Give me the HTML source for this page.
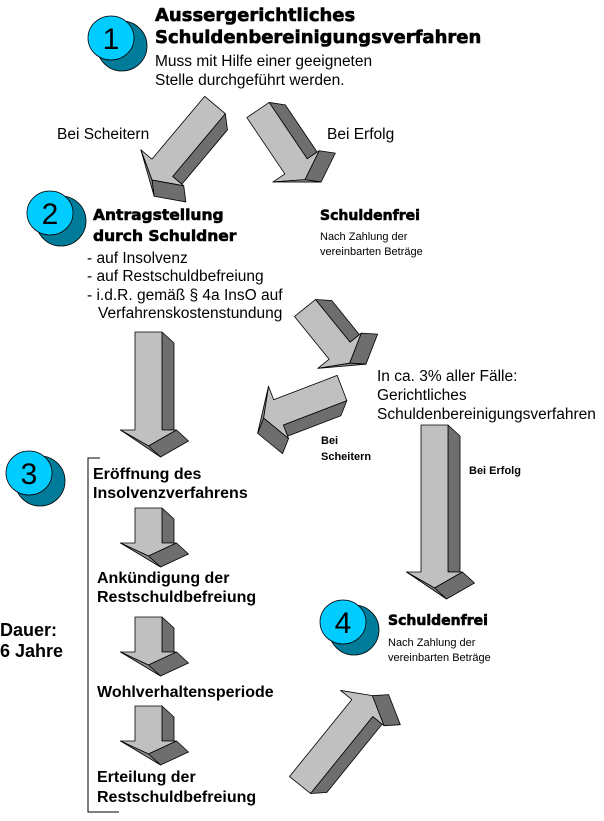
<!DOCTYPE html>
<html><head><meta charset="utf-8"><style>
html,body{margin:0;padding:0;background:#fff;width:604px;height:821px;overflow:hidden}
svg{display:block}
.a{font-family:"Liberation Sans",Arial,sans-serif;font-size:15.5px;fill:#000}
.b{font-family:"Liberation Sans",Arial,sans-serif;font-size:16px;font-weight:bold;fill:#000}
.v{font-family:"DejaVu Sans",Verdana,sans-serif;font-weight:bold;fill:#000;stroke:#000;stroke-width:0.6}
.s{font-family:"Liberation Sans",Arial,sans-serif;font-size:11px;fill:#000}
.sb{font-family:"Liberation Sans",Arial,sans-serif;font-size:11px;font-weight:bold;fill:#000}
.n{font-family:"Liberation Sans",Arial,sans-serif;font-size:30px;fill:#000}
</style></head><body>
<svg width="604" height="821" viewBox="0 0 604 821" xmlns="http://www.w3.org/2000/svg">
<g stroke="#000" stroke-width="0.8" stroke-linejoin="round">
<g transform="translate(215,105) rotate(40)">
<polygon fill="#6e6e6e" points="13.5,0 25.5,11 25.5,82 13.5,82"/>
<polygon fill="#c0c0c0" points="-13.5,0 13.5,0 13.5,82 28,82 0,98 -28,82 -13.5,82"/>
<polygon fill="#6e6e6e" points="0,98 28,82 40,93 12,109"/>
<polygon fill="#8a8a8a" points="-28,82 0,98 12,109"/>
</g>
<g transform="translate(258,110) rotate(-34)">
<polygon fill="#6e6e6e" points="13.5,0 25.5,11 25.5,68 13.5,68"/>
<polygon fill="#c0c0c0" points="-13.5,0 13.5,0 13.5,68 28,68 0,84 -28,68 -13.5,68"/>
<polygon fill="#6e6e6e" points="0,84 28,68 40,79 12,95"/>
<polygon fill="#8a8a8a" points="-28,68 0,84 12,95"/>
</g>
<g transform="translate(305,308) rotate(-39)">
<polygon fill="#6e6e6e" points="13.5,0 25.5,11 25.5,55 13.5,55"/>
<polygon fill="#c0c0c0" points="-13.5,0 13.5,0 13.5,55 28,55 0,71 -28,55 -13.5,55"/>
<polygon fill="#6e6e6e" points="0,71 28,55 40,66 12,82"/>
<polygon fill="#8a8a8a" points="-28,55 0,71 12,82"/>
</g>
<g transform="translate(342,388) rotate(69)">
<polygon fill="#6e6e6e" points="13.5,0 25.5,11 25.5,68 13.5,68"/>
<polygon fill="#c0c0c0" points="-13.5,0 13.5,0 13.5,68 28,68 0,84 -28,68 -13.5,68"/>
<polygon fill="#6e6e6e" points="0,84 28,68 40,79 12,95"/>
<polygon fill="#8a8a8a" points="-28,68 0,84 12,95"/>
</g>
<g transform="translate(148.5,332)">
<polygon fill="#6e6e6e" points="13.5,0 25.5,11 25.5,98 13.5,98"/>
<polygon fill="#c0c0c0" points="-13.5,0 13.5,0 13.5,98 28,98 0,114 -28,98 -13.5,98"/>
<polygon fill="#6e6e6e" points="0,114 28,98 40,109 12,125"/>
<polygon fill="#8a8a8a" points="-28,98 0,114 12,125"/>
</g>
<g transform="translate(434.5,425)">
<polygon fill="#6e6e6e" points="13.5,0 25.5,11 25.5,147 13.5,147"/>
<polygon fill="#c0c0c0" points="-13.5,0 13.5,0 13.5,147 28,147 0,163 -28,147 -13.5,147"/>
<polygon fill="#6e6e6e" points="0,163 28,147 40,158 12,174"/>
<polygon fill="#8a8a8a" points="-28,147 0,163 12,174"/>
</g>
<g transform="translate(148.5,508)">
<polygon fill="#6e6e6e" points="13.5,0 25.5,11 25.5,35 13.5,35"/>
<polygon fill="#c0c0c0" points="-13.5,0 13.5,0 13.5,35 28,35 0,48 -28,35 -13.5,35"/>
<polygon fill="#6e6e6e" points="0,48 28,35 40,46 12,59"/>
<polygon fill="#8a8a8a" points="-28,35 0,48 12,59"/>
</g>
<g transform="translate(148.5,617)">
<polygon fill="#6e6e6e" points="13.5,0 25.5,11 25.5,35 13.5,35"/>
<polygon fill="#c0c0c0" points="-13.5,0 13.5,0 13.5,35 28,35 0,48 -28,35 -13.5,35"/>
<polygon fill="#6e6e6e" points="0,48 28,35 40,46 12,59"/>
<polygon fill="#8a8a8a" points="-28,35 0,48 12,59"/>
</g>
<g transform="translate(148.5,706)">
<polygon fill="#6e6e6e" points="13.5,0 25.5,11 25.5,35 13.5,35"/>
<polygon fill="#c0c0c0" points="-13.5,0 13.5,0 13.5,35 28,35 0,48 -28,35 -13.5,35"/>
<polygon fill="#6e6e6e" points="0,48 28,35 40,46 12,59"/>
<polygon fill="#8a8a8a" points="-28,35 0,48 12,59"/>
</g>
<g transform="translate(300,785) rotate(-141)">
<polygon fill="#6e6e6e" points="-13.5,0 -25.5,11 -25.5,99 -13.5,99"/>
<polygon fill="#c0c0c0" points="-13.5,0 13.5,0 13.5,99 28,99 0,115 -28,99 -13.5,99"/>
<polygon fill="#6e6e6e" points="-28,99 -40,110 -12,126 0,115"/>
</g>
</g>

<g stroke="#000" stroke-width="0.8">
<ellipse cx="122" cy="46" rx="25" ry="25" fill="#007b9a"/>
<ellipse cx="111" cy="38" rx="23" ry="22" fill="#00ccff"/>
<ellipse cx="61" cy="221" rx="25" ry="25" fill="#007b9a"/>
<ellipse cx="50" cy="213" rx="23" ry="22" fill="#00ccff"/>
<ellipse cx="40" cy="481" rx="25" ry="25" fill="#007b9a"/>
<ellipse cx="29" cy="473" rx="23" ry="22" fill="#00ccff"/>
<ellipse cx="354" cy="630" rx="25" ry="25" fill="#007b9a"/>
<ellipse cx="343" cy="622" rx="23" ry="22" fill="#00ccff"/>
</g>
<text class="n" x="111" y="49" text-anchor="middle">1</text>
<text class="n" x="50" y="224" text-anchor="middle">2</text>
<text class="n" x="29" y="484" text-anchor="middle">3</text>
<text class="n" x="343" y="633" text-anchor="middle">4</text>

<polyline points="100,458 88,458 88,812 119,812" fill="none" stroke="#000" stroke-width="1"/>

<text class="v" font-size="18" x="155" y="21">Aussergerichtliches</text>
<text class="v" font-size="18" x="155" y="43">Schuldenbereinigungsverfahren</text>
<text class="a" x="155" y="66">Muss mit Hilfe einer geeigneten</text>
<text class="a" x="155" y="85">Stelle durchgeführt werden.</text>
<text class="a" x="57" y="139">Bei Scheitern</text>
<text class="a" x="327" y="139">Bei Erfolg</text>
<text class="v" font-size="15.5" x="93" y="220">Antragstellung</text>
<text class="v" font-size="15.5" x="93" y="241">durch Schuldner</text>
<text class="a" x="87" y="263">- auf Insolvenz</text>
<text class="a" x="87" y="281">- auf Restschuldbefreiung</text>
<text class="a" x="87" y="300">- i.d.R. gemäß § 4a InsO auf</text>
<text class="a" x="98" y="318">Verfahrenskostenstundung</text>
<text class="v" font-size="14" x="320" y="220">Schuldenfrei</text>
<text class="s" x="320" y="240">Nach Zahlung der</text>
<text class="s" x="320" y="255">vereinbarten Beträge</text>
<text class="a" x="377" y="381">In ca. 3% aller Fälle:</text>
<text class="a" x="377" y="400">Gerichtliches</text>
<text class="a" x="377" y="419">Schuldenbereinigungsverfahren</text>
<text class="sb" x="321" y="444">Bei</text>
<text class="sb" x="321" y="460">Scheitern</text>
<text class="sb" x="469" y="474">Bei Erfolg</text>
<text class="b" x="93" y="479">Eröffnung des</text>
<text class="b" x="93" y="498">Insolvenzverfahrens</text>
<text class="b" x="97" y="583">Ankündigung der</text>
<text class="b" x="97" y="602">Restschuldbefreiung</text>
<text class="b" x="97" y="697">Wohlverhaltensperiode</text>
<text class="b" x="97" y="782">Erteilung der</text>
<text class="b" x="97" y="802">Restschuldbefreiung</text>
<text class="b" x="0" y="636" style="font-size:18px">Dauer:</text>
<text class="b" x="0" y="657" style="font-size:18px">6 Jahre</text>
<text class="v" font-size="14" x="388" y="625">Schuldenfrei</text>
<text class="s" x="388" y="646">Nach Zahlung der</text>
<text class="s" x="388" y="661">vereinbarten Beträge</text>
</svg>
</body></html>
